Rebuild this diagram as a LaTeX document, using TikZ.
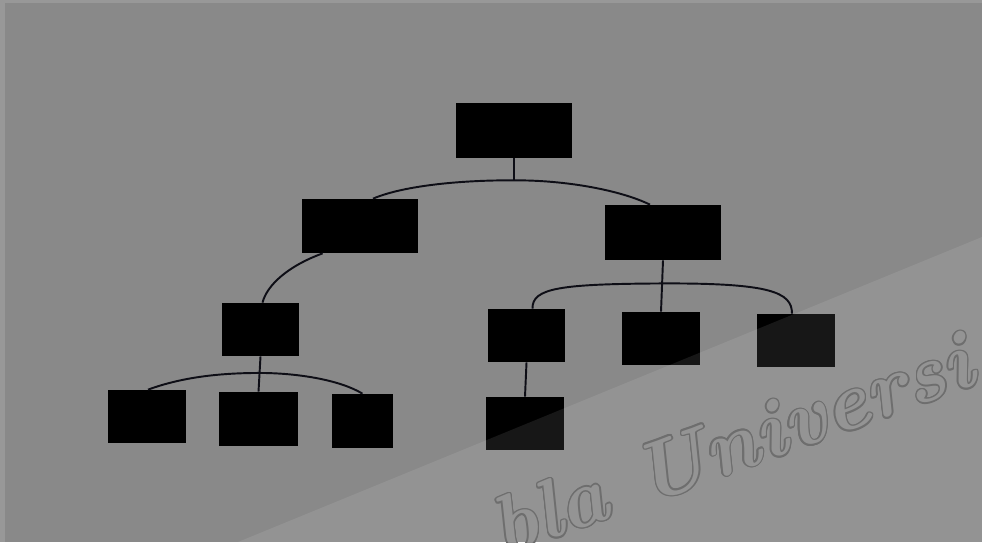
\documentclass[tikz,border=0pt]{standalone}
\usetikzlibrary{calc}
\definecolor{bgray}{RGB}{137,137,137}
\definecolor{edgegray}{RGB}{152,152,152}
\definecolor{wm}{RGB}{110,110,110}
\definecolor{wmfill}{RGB}{148,148,148}
\definecolor{ink}{RGB}{14,14,22}
\begin{document}
\begin{tikzpicture}[x=0.02cm,y=-0.02cm,
  box/.style 2 args={fill=black,draw=none,inner sep=0pt,
    minimum width=#1*0.02cm,minimum height=#2*0.02cm},
  link/.style={draw=ink,line width=1.1pt},
  shade/.style={fill=white,fill opacity=0.09},
  wmark/.style={anchor=base west,rotate=20,inner sep=0pt,
    font=\fontsize{47}{47}\selectfont\bfseries\itshape}]
\useasboundingbox (0,0) rectangle (982,542);
\path[clip] (0,0) rectangle (982,542);
\fill[bgray] (0,0) rectangle (982,542);
\fill[edgegray] (0,0) rectangle (5,542);
\fill[edgegray] (0,0) rectangle (982,3);

% boxes
\node[box={116}{55}] (root) at (514,130.5) {};
\node[box={116}{54}] (l1a) at (360,226) {};
\node[box={116}{55}] (l1b) at (663,232.5) {};
\node[box={77}{53}] (l2a) at (260.5,329.5) {};
\node[box={77}{53}] (ra) at (526.5,335.5) {};
\node[box={78}{53}] (rb) at (661,338.5) {};
\node[box={78}{53}] (rc) at (796,340.5) {};
\node[box={78}{53}] (la) at (147,416.5) {};
\node[box={79}{54}] (lb) at (258.5,419) {};
\node[box={61}{54}] (lc) at (362.5,421) {};
\node[box={78}{53}] (rd) at (525,423.5) {};

% connector points
\coordinate (j1) at ($(root.south)+(0,22)$);
\coordinate (l1aT) at ($(l1a.north)+(13,0)$);
\coordinate (l1bT) at ($(l1b.north)+(-13,0)$);
\coordinate (l1aB) at ($(l1a.south west)+(21,0)$);
\coordinate (l2aT) at ($(l2a.north)+(2,0)$);
\coordinate (j2) at ($(l1b.south)!0.45!(rb.north)$);
\coordinate (raT) at ($(ra.north)+(6,0)$);
\coordinate (rcT) at ($(rc.north)+(-4,0)$);
\coordinate (j3) at ($(l2a.south)!0.47!(lb.north)$);
\coordinate (laT) at ($(la.north)+(1,0)$);
\coordinate (lcT) at (lc.north);

% connectors
\draw[link] (root.south) -- (j1);
\draw[link] (l1aT) .. controls (405,185) and (465,180) .. (j1)
  .. controls (565,180) and (620,190) .. (l1bT);
\draw[link] (l1aB) .. controls (288,266) and (267,285) .. (l2aT);
\draw[link] (l1b.south) -- (rb.north);
\draw[link] (raT) .. controls (532,288) and (560,284) .. (j2)
  .. controls (770,283) and (792,292) .. (rcT);
\draw[link] (l2a.south) -- (lb.north);
\draw[link] (laT) .. controls (185,376) and (225,373) .. (j3)
  .. controls (298,373) and (340,380) .. (lcT);
\draw[link] (ra.south) -- (rd.north);

% light diagonal overlay
\fill[shade] (238,542) -- (982,237) -- (982,542) -- cycle;

% watermark (outlined lettering)
\coordinate (wmpos) at (503,557);
\foreach \a [count=\k] in {0,30,...,330}
  \node[wmark,text=wm] (wmo\k) at ($(wmpos)+(\a:1.5)$) {bla Universi};
\node[wmark,text=wmfill] (wmk) at (wmpos) {bla Universi};
\end{tikzpicture}
\end{document}
